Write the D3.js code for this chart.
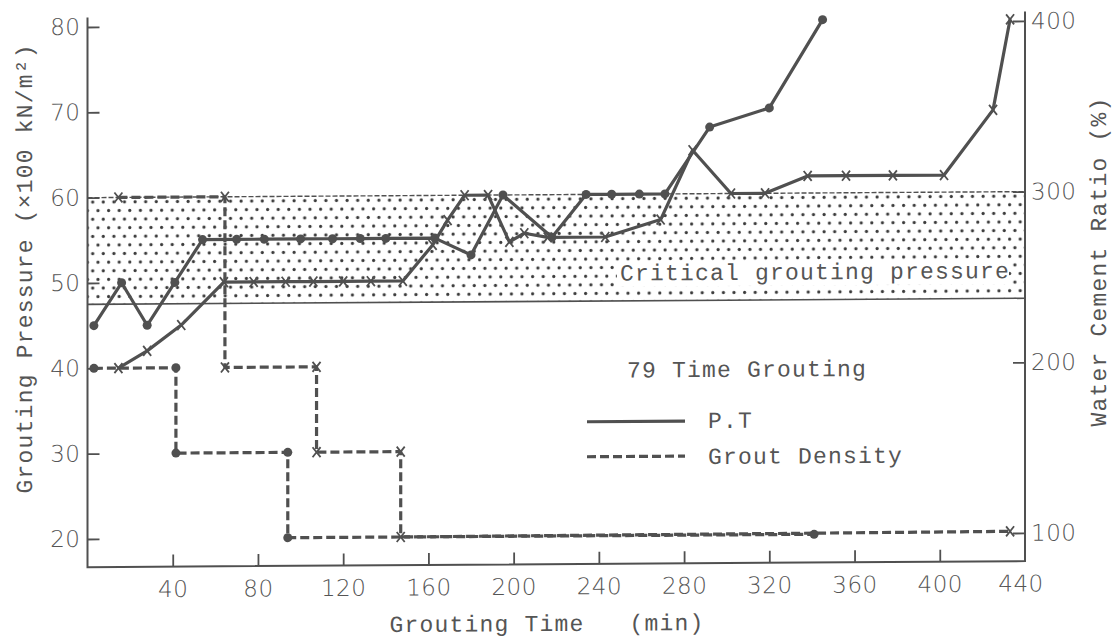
<!DOCTYPE html>
<html>
<head>
<meta charset="utf-8">
<script src="https://cdn.jsdelivr.net/npm/d3@7"></script>
<style>
  body { margin: 0; background: #fff; }
  svg text { fill: #555; }
  .mono { font-family: "Liberation Mono", "DejaVu Sans Mono", monospace; font-size: 23px; letter-spacing: 1.2px; white-space: pre; }
  .num { font-family: "DejaVu Sans", sans-serif; font-weight: 200; font-size: 23px; letter-spacing: 0.5px; }
</style>
</head>
<body>
<div id="chart"></div>
<script>
// ---- data ----
var timeTicks = [40, 80, 120, 160, 200, 240, 280, 320, 360, 400, 440];
var pressureTicks = [20, 30, 40, 50, 60, 70, 80];
var ratioTicks = [100, 200, 300, 400];
var criticalBand = [47.5, 60];

// P.T (solid), hole marked with dots
var ptDotTime = [3, 16, 28, 41, 54, 70, 83, 100, 115, 128, 140, 163, 180, 195, 218, 234, 246, 259, 271, 292, 320, 345];
var ptDotPressure = [45, 50, 45, 50, 55, 55, 55, 55, 55, 55, 55, 55, 53, 60, 55, 60, 60, 60, 60, 67.8, 70, 80.3];
// P.T (solid), hole marked with crosses
var ptCrossTime = [14.5, 28, 44, 64, 78, 93, 106, 120, 133, 148, 162, 169, 177, 188, 198, 205, 216, 243, 269, 284, 302, 318, 338, 356, 378, 402, 425, 433];
var ptCrossPressure = [40, 42, 45, 50, 50, 50, 50, 50, 50, 50, 54.2, 57.1, 60, 60, 54.5, 55.5, 55, 55, 57, 65.1, 60, 60, 62, 62, 62, 62, 69.6, 80.2];
// Grout density as W/C ratio (dashed)
var densDotTime = [3, 41.5, 41.5, 94, 94, 341];
var densDotRatio = [200, 200, 150, 150, 100, 100];
var densCrossTime = [14.5, 64.5, 64.5, 107.5, 107.5, 147, 147, 433];
var densCrossRatio = [300, 300, 200, 200, 150, 150, 100, 101];

var W = 1116, H = 640;
var ink = "#505050";

var x = d3.scaleLinear().domain([0, 440]).range([87.5, 1025]);
var yL = d3.scaleLinear().domain([20, 80]).range([539, 27]);
var yR = d3.scaleLinear().domain([100, 400]).range([539, 27]);

var svg = d3.select("#chart").append("svg").attr("width", W).attr("height", H);

// pattern for the critical pressure band
var defs = svg.append("defs");
var pat = defs.append("pattern").attr("id", "dots").attr("patternUnits", "userSpaceOnUse")
  .attr("width", 10.6).attr("height", 17.2);
pat.append("circle").attr("cx", 2.6).attr("cy", 4.3).attr("r", 1.6).attr("fill", "#3a3a3a");
pat.append("circle").attr("cx", 7.9).attr("cy", 12.9).attr("r", 1.6).attr("fill", "#3a3a3a");

// the scanned figure leans slightly: right side sits higher
var g = svg.append("g").attr("transform", "translate(87.5,0) skewY(-0.37) translate(-87.5,0)");

var plotTop = yL(81.1), plotBottom = yL(16.7);

/* ------- critical band ------- */
g.append("rect")
  .attr("x", x(0)).attr("width", x(440) - x(0))
  .attr("y", yL(criticalBand[1])).attr("height", yL(criticalBand[0]) - yL(criticalBand[1]))
  .attr("fill", "url(#dots)");
g.append("line").attr("x1", x(0)).attr("x2", x(440))
  .attr("y1", yL(criticalBand[1])).attr("y2", yL(criticalBand[1]))
  .attr("stroke", ink).attr("stroke-width", 1.4).attr("stroke-dasharray", "5,2");
g.append("line").attr("x1", x(0)).attr("x2", x(440))
  .attr("y1", yL(criticalBand[0])).attr("y2", yL(criticalBand[0]))
  .attr("stroke", ink).attr("stroke-width", 1.6);
var crit = g.append("text").attr("class", "mono").attr("x", 620).attr("y", 284).text("Critical grouting pressure");
var cb = crit.node().getBBox();
g.insert("rect", function () { return crit.node(); })
  .attr("x", cb.x - 3).attr("y", cb.y + 3).attr("width", cb.width + 2).attr("height", cb.height - 4)
  .attr("fill", "#fff");

/* ------- axes ------- */
var axB = g.append("g").attr("transform", "translate(0," + plotBottom + ")")
  .call(d3.axisBottom(x).tickValues(timeTicks.slice(0, -1)).tickSize(-12).tickPadding(14));
axB.append("text").attr("x", x(440) - 4).attr("y", 14).attr("dy", "0.71em").attr("text-anchor", "middle").text("440");
var axL = g.append("g").attr("transform", "translate(" + x(0) + ",0)")
  .call(d3.axisLeft(yL).tickValues(pressureTicks).tickSize(-12).tickPadding(7));
var axR = g.append("g").attr("transform", "translate(" + x(440) + ",0)")
  .call(d3.axisRight(yR).tickValues(ratioTicks).tickSize(-12).tickPadding(6));
[axB, axL, axR].forEach(function (a) {
  a.select(".domain").remove();
  a.selectAll(".tick line").attr("stroke", ink).attr("stroke-width", 1.8);
  a.selectAll("text").attr("class", "num").attr("fill", ink);
});

// frame
g.append("path")
  .attr("d", "M" + x(0) + "," + plotTop + "V" + plotBottom + "H" + x(440) + "V" + plotTop)
  .attr("fill", "none").attr("stroke", ink).attr("stroke-width", 2);

/* ------- series ------- */
function pts(ts, vs) { return ts.map(function (t, i) { return [t, vs[i]]; }); }

var lineL = d3.line().x(function (d) { return x(d[0]); }).y(function (d) { return yL(d[1]); });
var lineR = d3.line().x(function (d) { return x(d[0]); }).y(function (d) { return yR(d[1]); });

var series = [
  { data: pts(densDotTime, densDotRatio), line: lineR, y: yR, dash: "9,4", mark: "dot" },
  { data: pts(densCrossTime, densCrossRatio), line: lineR, y: yR, dash: "9,4", mark: "cross" },
  { data: pts(ptDotTime, ptDotPressure), line: lineL, y: yL, dash: null, mark: "dot" },
  { data: pts(ptCrossTime, ptCrossPressure), line: lineL, y: yL, dash: null, mark: "cross" }
];

series.forEach(function (s) {
  g.append("path").datum(s.data)
    .attr("d", s.line)
    .attr("fill", "none").attr("stroke", ink).attr("stroke-width", 3.2)
    .attr("stroke-dasharray", s.dash)
    .attr("stroke-linejoin", "round");
  var m = g.append("g").selectAll("g").data(s.data).enter().append("g")
    .attr("transform", function (d) { return "translate(" + x(d[0]) + "," + s.y(d[1]) + ")"; });
  if (s.mark === "dot") {
    m.append("circle").attr("r", 4.5).attr("fill", ink);
  } else {
    m.append("path").attr("d", "M-4,-5L4,5M-4,5L4,-5")
      .attr("stroke", ink).attr("stroke-width", 1.8).attr("fill", "none");
  }
});

/* ------- legend ------- */
g.append("text").attr("class", "mono").attr("x", 627).attr("y", 381).text("79 Time Grouting");
g.append("line").attr("x1", 587).attr("x2", 685).attr("y1", 425).attr("y2", 425)
  .attr("stroke", ink).attr("stroke-width", 3.2);
g.append("text").attr("class", "mono").attr("x", 708).attr("y", 432).text("P.T");
g.append("line").attr("x1", 587).attr("x2", 685).attr("y1", 460).attr("y2", 460)
  .attr("stroke", ink).attr("stroke-width", 3.2).attr("stroke-dasharray", "9,4");
g.append("text").attr("class", "mono").attr("x", 708).attr("y", 468).text("Grout Density");

/* ------- axis titles ------- */
g.append("text").attr("class", "mono").attr("text-anchor", "middle")
  .attr("transform", "translate(547,634)").text("Grouting Time   (min)");
g.append("text").attr("class", "mono").attr("text-anchor", "middle")
  .attr("transform", "translate(32,268) rotate(-90)").text("Grouting Pressure (\u00d7100 kN/m\u00b2)");
g.append("text").attr("class", "mono").attr("text-anchor", "middle")
  .attr("transform", "translate(1106,268) rotate(-90)").text("Water Cement Ratio (%)");
</script>
</body>
</html>
